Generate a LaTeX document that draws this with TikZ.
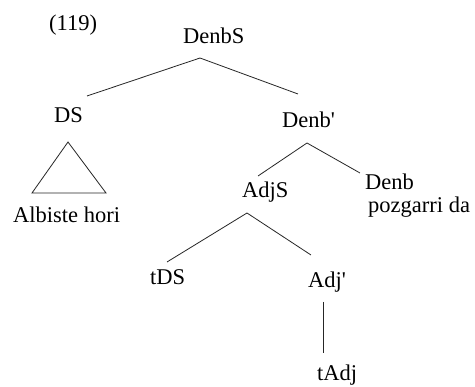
\documentclass[tikz,border=0pt]{standalone}
\usepackage{fontspec}
\setmainfont{Liberation Serif}
\begin{document}
\begin{tikzpicture}[x=1pt,y=-1pt,
  lbl/.style={anchor=base west,inner sep=0pt,font=\fontsize{22.5}{27}\selectfont},
  edge/.style={draw=black!85,line width=0.8pt}]
\useasboundingbox[fill=white] (0,0) rectangle (475,387);
% labels
\node[lbl] (num) at (49,31) {(119)};
\node[lbl] (DenbS) at (183,44) {DenbS};
\node[lbl] (DS) at (54,123) {DS};
\node[lbl] (Alb) at (13,223) {Albiste hori};
\node[lbl] (Denbp) at (282,128) {Denb\textquotesingle};
\node[lbl] (AdjS) at (242,198) {AdjS};
\node[lbl] (Denb) at (365,190) {Denb};
\node[lbl] (pozg) at (368,213) {pozgarri da};
\node[lbl] (tDS) at (150,285) {tDS};
\node[lbl] (Adjp) at (308,288) {Adj\textquotesingle};
\node[lbl] (tAdj) at (317,381) {tAdj};
% connector end points
\coordinate (DenbSb) at (200,58);
\coordinate (DSt) at (87,96);
\coordinate (Denbpt) at (298,94);
\coordinate (Denbpb) at (307,143);
\coordinate (AdjSt) at (258,176);
\coordinate (Denbt) at (360,173);
\coordinate (AdjSb) at (247,213);
\coordinate (tDSt) at (167,262);
\coordinate (Adjpt) at (311,255);
\coordinate (Adjpb) at (323,302);
\coordinate (tAdjt) at (323,353);
\coordinate (triA) at (68,142);
\coordinate (triL) at (32,193);
\coordinate (triR) at (106,193);
% connectors
\draw[edge] (DSt) -- (DenbSb) -- (Denbpt);
\draw[edge] (AdjSt) -- (Denbpb) -- (Denbt);
\draw[edge] (tDSt) -- (AdjSb) -- (Adjpt);
\draw[edge] (Adjpb) -- (tAdjt);
\draw[edge,line join=miter] (triA) -- (triL) -- (triR) -- cycle;
\end{tikzpicture}
\end{document}
